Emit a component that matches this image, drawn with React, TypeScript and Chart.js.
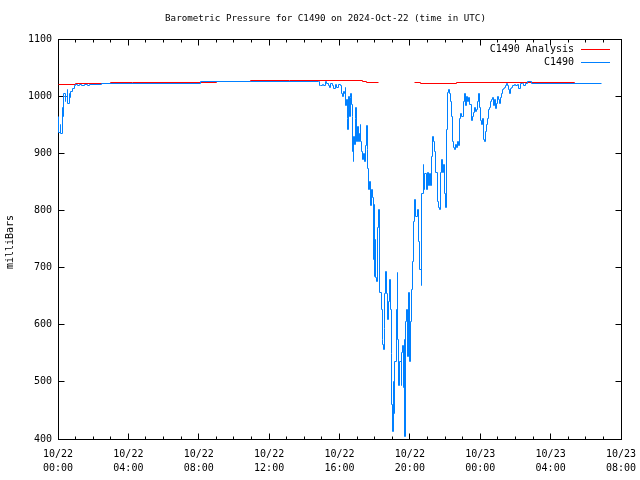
import React, { useEffect, useRef } from 'react';
import { Chart, registerables } from 'chart.js';
Chart.register(...registerables);

const TITLE = 'Barometric Pressure for C1490 on 2024-Oct-22 (time in UTC)';
const Y_TITLE = 'milliBars';
const SERIES_NAMES = ['C1490 Analysis', 'C1490'];
const SERIES_COLORS = ['#ff0000', '#0080ff'];

// x axis: minutes since 2024-10-22 00:00 UTC
const X_MIN = 0;
const X_MAX = 1920;
const X_MAJOR_STEP = 240;
const X_MINOR_STEP = 60;
const X_TICK_LABELS = [
  ['10/22', '00:00'],
  ['10/22', '04:00'],
  ['10/22', '08:00'],
  ['10/22', '12:00'],
  ['10/22', '16:00'],
  ['10/22', '20:00'],
  ['10/23', '00:00'],
  ['10/23', '04:00'],
  ['10/23', '08:00'],
];
const Y_MIN = 400;
const Y_MAX = 1100;
const Y_STEP = 100;

// C1490 Analysis (minutes, mb); null = gap
const ANALYSIS_MIN = [0, 58, 178, 253, 540, 656, 790, 1039, 1052, 1094, 1100, 1216, 1237, 1360, 1763, 1767];
const ANALYSIS_MB = [1021, 1023, 1024.5, 1024, 1026, 1027, 1027.5, 1026, 1024, 1024, null, 1024, 1022.5, 1024, 1022, 1022];

// C1490 observations (minutes, mb)
const OBS_MIN = [2,3,7,10,14,17,20,24,27,31,34,38,41,44,48,55,61,65,72,79,89,102,109,147,485,656,888,891,895,902,907,912,917,921,926,931,936,941,946,951,958,963,967,970,974,977,980,982,985,986,987,991,994,996,999,1001,1004,1006,1008,1009,1011,1015,1016,1018,1021,1025,1028,1032,1033,1035,1039,1042,1045,1049,1052,1055,1057,1059,1062,1066,1069,1073,1076,1077,1081,1083,1084,1086,1091,1094,1097,1102,1105,1108,1110,1112,1115,1118,1121,1125,1128,1132,1134,1136,1139,1142,1145,1146,1149,1153,1157,1159,1162,1165,1170,1172,1175,1177,1180,1183,1186,1189,1193,1196,1200,1203,1206,1209,1214,1217,1220,1225,1231,1234,1238,1241,1245,1248,1251,1255,1260,1263,1266,1270,1273,1277,1280,1283,1287,1294,1297,1300,1304,1307,1311,1314,1317,1321,1324,1328,1331,1335,1338,1341,1345,1348,1352,1355,1359,1362,1365,1369,1372,1377,1383,1386,1389,1393,1396,1401,1405,1410,1413,1417,1420,1424,1427,1430,1434,1437,1441,1444,1449,1451,1455,1458,1461,1465,1468,1471,1475,1478,1482,1485,1488,1492,1495,1499,1502,1505,1509,1512,1516,1519,1522,1526,1529,1533,1536,1540,1543,1546,1551,1557,1561,1566,1570,1577,1584,1588,1594,1602,1616,1852];
const OBS_MB = [963.5,937,951,934,981,965,1004,990,1000,1011,988,1004,997,1009,1014,1019,1021,1018,1021,1019.5,1021,1019.5,1021,1023,1025,1026.5,1026.5,1019.5,1018,1021,1019.5,1025,1023,1018,1016,1023,1019.5,1014,1021,1016,1021,1018,1005.5,1000,1009,1004,1016,983,995,960,942.5,1000,965,998,1004,986,965,904,886.5,930,916,960,981,921.5,946,920,934,951,920,904,890,899,886.5,913,948,907,872.5,837.5,850,808,837.5,823.5,715,811,685,750,683.5,675,771,802.5,657,627.5,575,566,556,593,654,694,654,610,640,680,627.5,549,461,414,500,444,535,627.5,692,575,493,535,493,552,563,491,575,405,605,627.5,545,657,535,605,662.5,711.5,780,820,790,802.5,745,697.5,668,829,881,837.5,864,837.5,867,843,864,843,895,930,920,904,867,816.5,806,802.5,867,890,867,881,829,806,942.5,1007,1012.5,1004,990,965,921.5,911,907.5,916,911,921.5,913,960,969,963.5,990,1004,983,1000,990,997,986,956.5,965,972,981,974,977.5,990,1004,981,956.5,949.5,960,925,920,939,951,960,977.5,981,990,995,998.5,984.5,995,979,988,1000,995,988,998.5,1005.5,1011,1014,1016,1019.5,1023,1019.5,1012.5,1005.5,1014,1016,1019.5,1021,1018,1021,1014,1023,1023,1018,1023,1025,1023,1023];

const FONT = 'DejaVu Sans Mono, monospace';

const decor = {
  id: 'decor',
  beforeDatasetsDraw(chart: any) {
    // snap computed point positions to the pixel grid for crisp 1px lines
    chart.getSortedVisibleDatasetMetas().forEach((meta: any) => {
      meta.data.forEach((el: any) => {
        if (el && Number.isFinite(el.x) && Number.isFinite(el.y)) {
          el.x = Math.floor(el.x) + 0.5;
          el.y = Math.floor(el.y) + 0.5;
        }
      });
    });
    const { ctx, chartArea: a, scales } = chart;
    const xs = scales.x;
    const ys = scales.y;
    const L = Math.floor(a.left) + 0.5;
    const R = Math.floor(a.right) + 0.5;
    const T = Math.floor(a.top) + 0.5;
    const B = Math.floor(a.bottom) + 0.5;
    ctx.save();
    ctx.strokeStyle = '#000';
    ctx.lineWidth = 1;
    ctx.beginPath();
    for (let m = X_MIN; m <= X_MAX; m += X_MINOR_STEP) {
      const len = m % X_MAJOR_STEP === 0 ? 6 : 3;
      const px = Math.floor(xs.getPixelForValue(m)) + 0.5;
      ctx.moveTo(px, B);
      ctx.lineTo(px, B - len);
      ctx.moveTo(px, T);
      ctx.lineTo(px, T + len);
    }
    for (let v = Y_MIN; v <= Y_MAX; v += Y_STEP) {
      const py = Math.floor(ys.getPixelForValue(v)) + 0.5;
      ctx.moveTo(L, py);
      ctx.lineTo(L + 6, py);
      ctx.moveTo(R, py);
      ctx.lineTo(R - 6, py);
    }
    ctx.stroke();
    ctx.strokeRect(L, T, R - L, B - T);
    ctx.restore();
  },
  afterDraw(chart: any) {
    const { ctx } = chart;
    ctx.save();
    ctx.fillStyle = '#000';
    ctx.textBaseline = 'middle';
    ctx.textAlign = 'center';
    ctx.font = '9.2px ' + FONT;
    ctx.fillText(TITLE, 325.5, 19);
    ctx.font = '10px ' + FONT;
    ctx.save();
    ctx.translate(10, 242);
    ctx.rotate(-Math.PI / 2);
    ctx.fillText(Y_TITLE, 0, 0);
    ctx.restore();
    ctx.textAlign = 'right';
    const rows = [49.5, 62.5];
    SERIES_NAMES.forEach((name, i) => {
      ctx.fillStyle = '#000';
      ctx.fillText(name, 574, rows[i]);
      ctx.strokeStyle = SERIES_COLORS[i];
      ctx.lineWidth = 1;
      ctx.beginPath();
      ctx.moveTo(581, rows[i]);
      ctx.lineTo(610, rows[i]);
      ctx.stroke();
    });
    ctx.restore();
  },
};

export default function App() {
  const ref = useRef<HTMLCanvasElement | null>(null);
  useEffect(() => {
    document.body.style.margin = '0';
    const canvas = ref.current;
    if (!canvas) return;
    const analysis = ANALYSIS_MIN.map((m, i) => ({ x: m, y: ANALYSIS_MB[i] }));
    const obs = OBS_MIN.map((m, i) => ({ x: m, y: OBS_MB[i] }));
    const chart = new Chart(canvas, {
      type: 'line',
      data: {
        datasets: [
          {
            label: SERIES_NAMES[0],
            data: analysis as any,
            borderColor: SERIES_COLORS[0],
            borderWidth: 1,
            pointRadius: 0,
            stepped: true,
            spanGaps: false,
            fill: false,
            order: 2,
          },
          {
            label: SERIES_NAMES[1],
            data: obs as any,
            borderColor: SERIES_COLORS[1],
            borderWidth: 1,
            pointRadius: 0,
            stepped: true,
            fill: false,
            order: 1,
          },
        ],
      },
      options: {
        animation: false,
        responsive: false,
        devicePixelRatio: 1,
        layout: { padding: { top: 39, right: 19, left: 0, bottom: 0 } },
        plugins: { legend: { display: false }, tooltip: { enabled: false }, title: { display: false } },
        scales: {
          x: {
            type: 'linear',
            min: X_MIN,
            max: X_MAX,
            grid: { display: false, drawTicks: false },
            border: { display: false },
            afterFit: (s: any) => { s.height = 41; s.paddingLeft = 0; s.paddingRight = 0; },
            ticks: {
              stepSize: X_MAJOR_STEP,
              autoSkip: false,
              maxRotation: 0,
              padding: 8,
              color: '#000',
              font: { family: FONT, size: 10, lineHeight: 1.4 },
              callback: (v: any) => X_TICK_LABELS[Math.round(Number(v) / X_MAJOR_STEP)] || '',
            },
          },
          y: {
            type: 'linear',
            min: Y_MIN,
            max: Y_MAX,
            grid: { display: false, drawTicks: false },
            border: { display: false },
            afterFit: (s: any) => { s.width = 58; s.paddingTop = 0; s.paddingBottom = 0; },
            ticks: {
              stepSize: Y_STEP,
              padding: 6,
              color: '#000',
              font: { family: FONT, size: 10 },
              callback: (v: any) => String(v),
            },
          },
        },
      },
      plugins: [decor],
    });
    return () => chart.destroy();
  }, []);
  return (
    <div style={{ position: 'absolute', left: 0, top: 0, width: 640, height: 480, background: '#fff' }}>
      <canvas ref={ref} width={640} height={480} />
    </div>
  );
}
